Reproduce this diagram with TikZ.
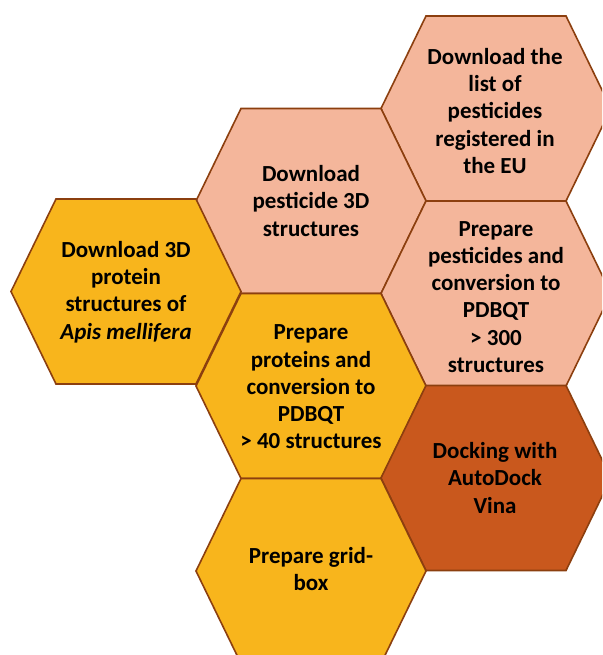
\documentclass[tikz,border=0pt]{standalone}
\usepackage{fontspec}
\setmainfont{Carlito}
\definecolor{salmon}{HTML}{F4B69B}
\definecolor{gold}{HTML}{F8B51C}
\definecolor{rust}{HTML}{C9581D}
\definecolor{hexborder}{HTML}{8C3F0F}
\tikzset{
  hexshape/.pic={\path[pic actions] (-115,0) -- (-70,-92.5) -- (70,-92.5) -- (115,0) -- (70,92.5) -- (-70,92.5) -- cycle;},
  hexfill/.style={draw=hexborder, line width=1.6pt, line join=miter},
  lbl/.style={align=center, inner sep=0pt, font=\fontsize{23}{27.2}\selectfont\bfseries, text=black}
}
\begin{document}
\begin{tikzpicture}[x=1pt,y=-1pt]
\clip (0,0) rectangle (602,655);
\fill[white] (0,0) rectangle (602,655);
\pic[hexfill, fill=salmon] at (496,108.5) {hexshape};
\pic[hexfill, fill=salmon] at (311,201) {hexshape};
\pic[hexfill, fill=gold] at (126,291.5) {hexshape};
\pic[hexfill, fill=salmon] at (496,293.5) {hexshape};
\pic[hexfill, fill=gold] at (311,386) {hexshape};
\pic[hexfill, fill=rust] at (496,478) {hexshape};
\pic[hexfill, fill=gold] at (311,571) {hexshape};
\node[lbl] (t3) at (495,111) {Download the\\list of\\pesticides\\registered in\\the EU};
\node[lbl] (t2) at (311,201) {Download\\pesticide 3D\\structures};
\node[lbl] (t1) at (126,292) {Download 3D\\protein\\structures of\\\textit{Apis mellifera}};
\node[lbl] (t4) at (496,297) {Prepare\\pesticides and\\conversion to\\PDBQT\\> 300\\structures};
\node[lbl] (t5) at (311,387) {Prepare\\proteins and\\conversion to\\PDBQT\\> 40 structures};
\node[lbl] (t6) at (495,478) {Docking with\\AutoDock\\Vina};
\node[lbl] (t7) at (311,569) {Prepare grid-\\box};
\end{tikzpicture}
\end{document}
